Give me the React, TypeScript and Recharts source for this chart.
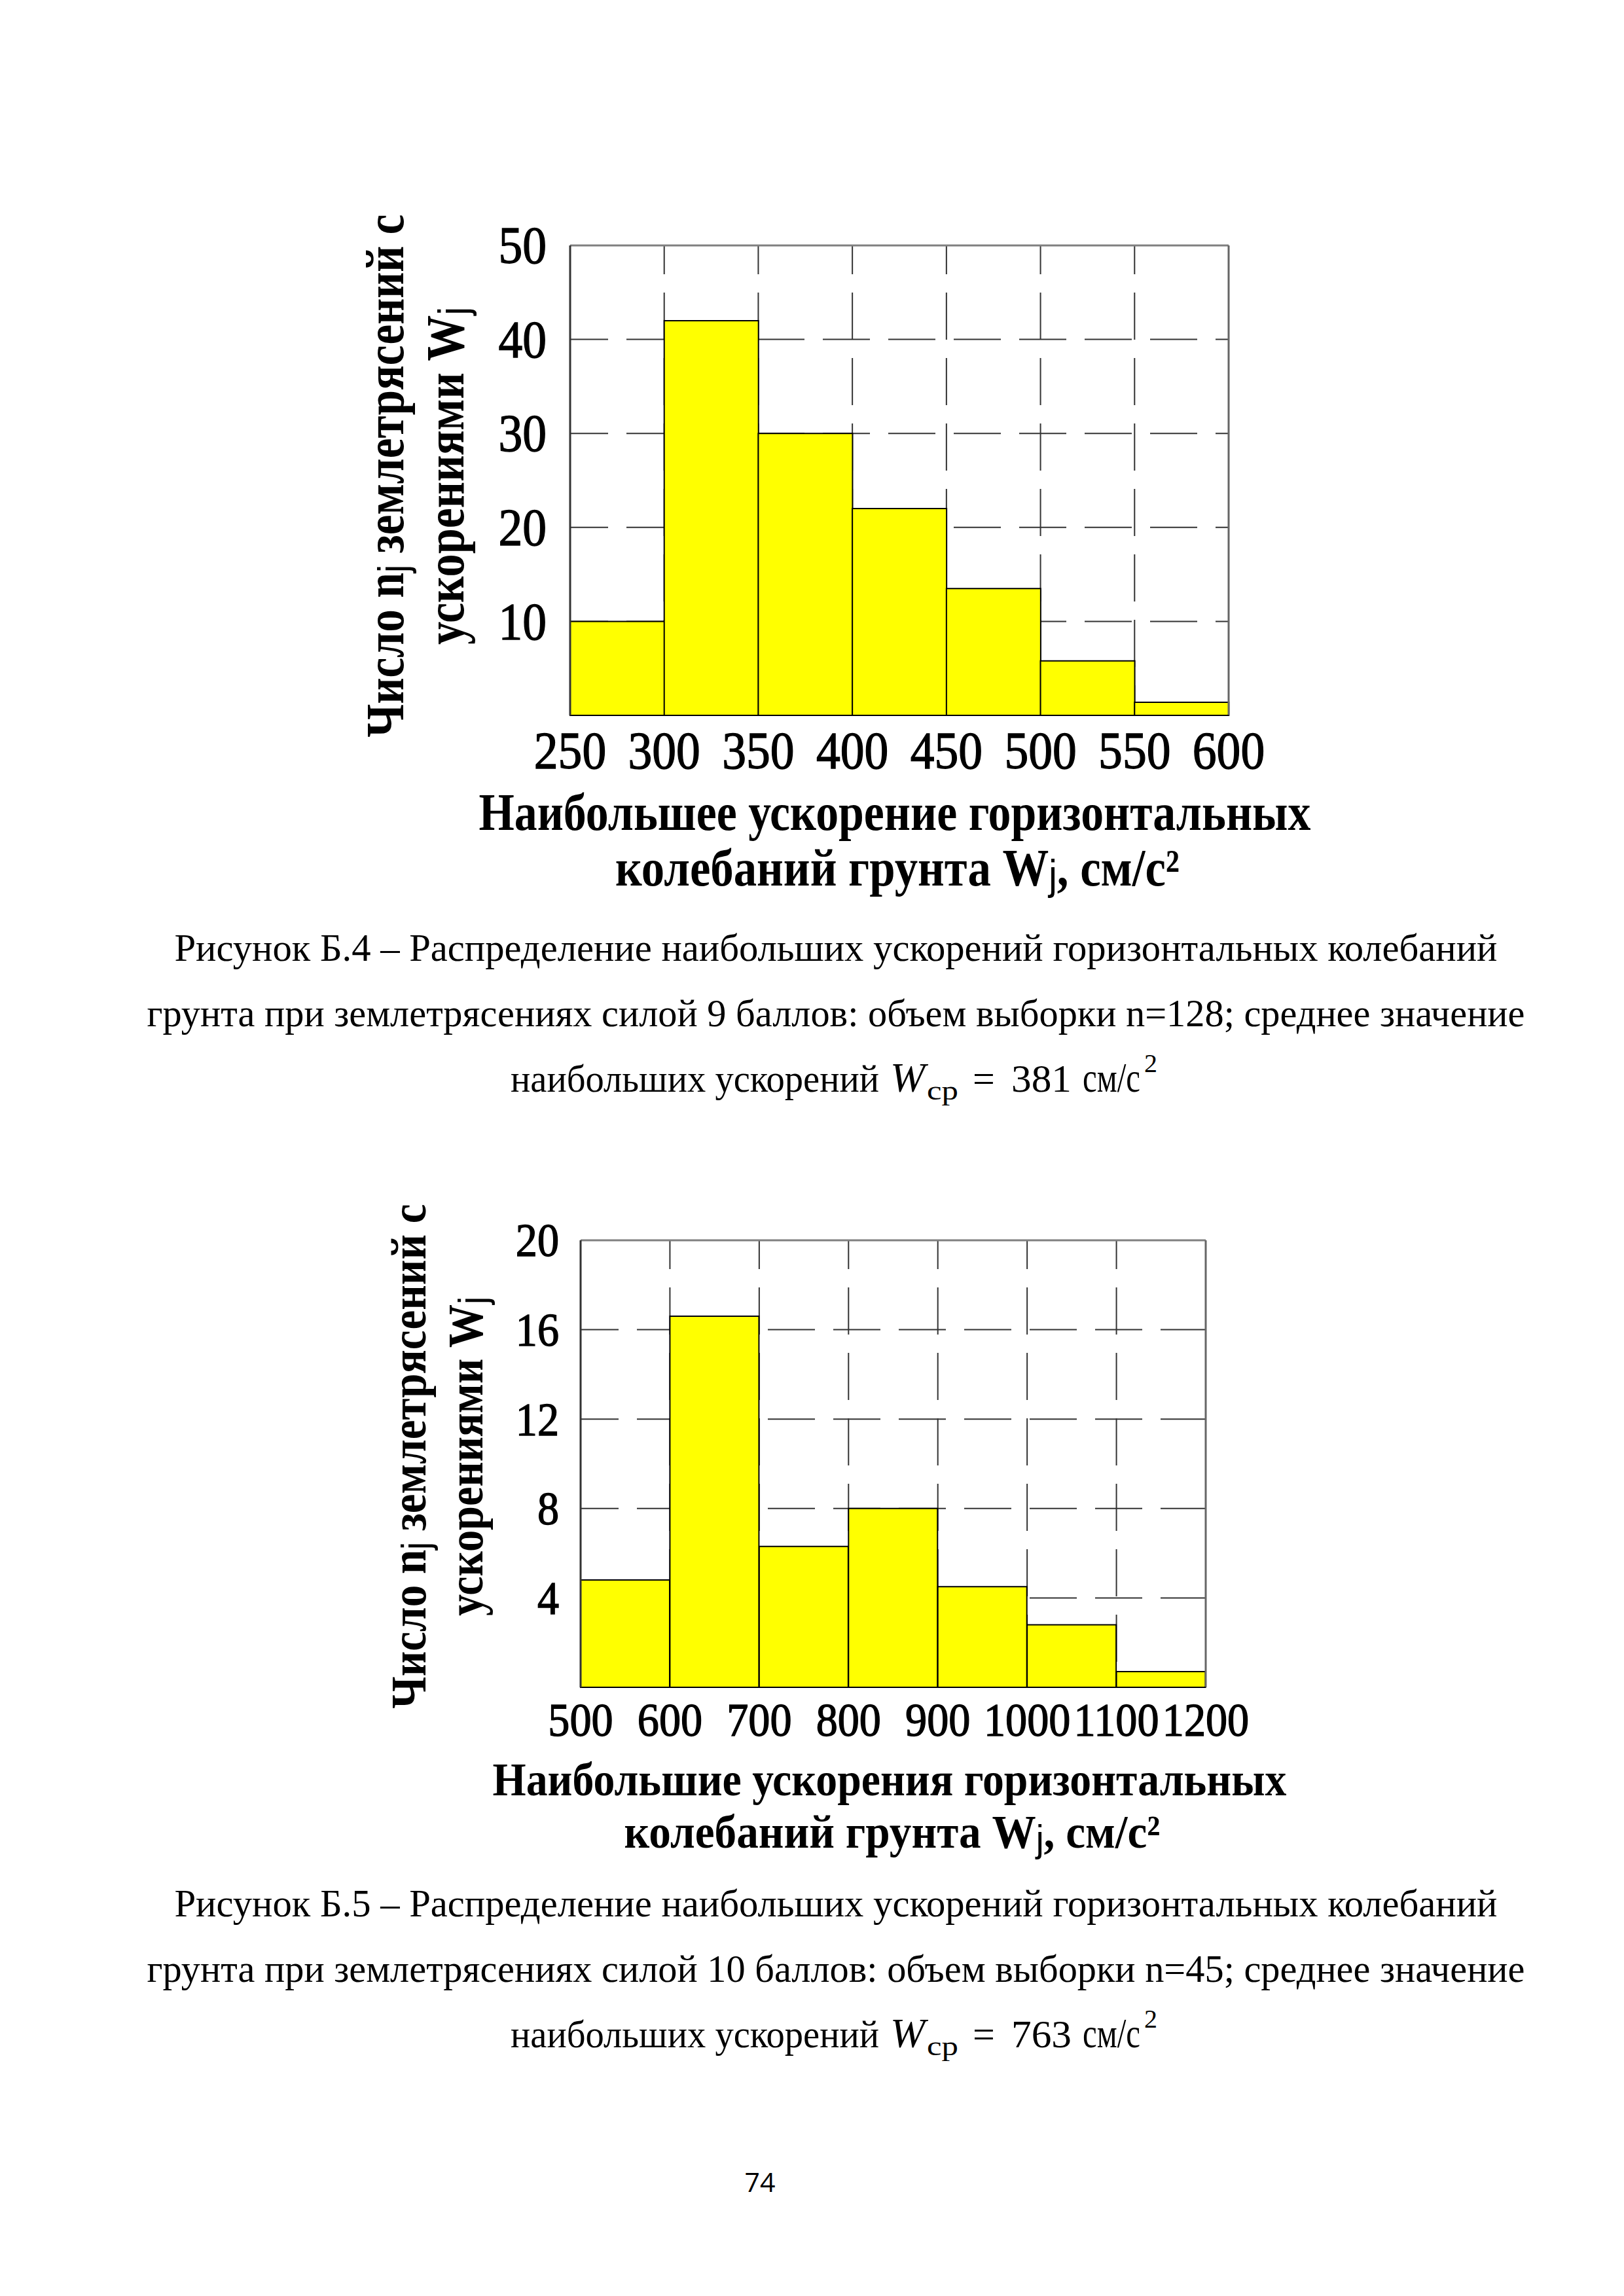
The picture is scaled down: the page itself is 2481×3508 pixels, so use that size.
import React from 'react';
import { BarChart, Bar, XAxis, YAxis, CartesianGrid, ReferenceLine } from 'recharts';

// ── data ─────────────────────────────────────────────────────────────────────

// Рисунок Б.4 — 9 баллов
const edges9 = [250, 300, 350, 400, 450, 500, 550, 600];
const counts9 = [10, 42, 30, 22, 13.5, 5.8, 1.4];
const yTicks9 = [10, 20, 30, 40, 50];

// Рисунок Б.5 — 10 баллов
const edges10 = [500, 600, 700, 800, 900, 1000, 1100, 1200];
const counts10 = [4.8, 16.6, 6.3, 8, 4.5, 2.8, 0.7];
const yTicks10 = [4, 8, 12, 16, 20];

const caption9 = [
  'Рисунок Б.4 – Распределение наибольших ускорений горизонтальных колебаний',
  'грунта при землетрясениях силой 9 баллов: объем выборки n=128; среднее значение',
];
const mean9 = '381';
const caption10 = [
  'Рисунок Б.5 – Распределение наибольших ускорений горизонтальных колебаний',
  'грунта при землетрясениях силой 10 баллов: объем выборки n=45; среднее значение',
];
const mean10 = '763';

const SERIF = '"Liberation Serif", "Times New Roman", serif';
const SANS = '"Liberation Sans", Arial, sans-serif';
const PAGE_W = 2481;

// ── ticks ────────────────────────────────────────────────────────────────────

const XTick = ({ x, y, payload, fs, dy }: any) => (
  <g transform={`translate(${x},${y + dy}) scale(0.92,1)`}>
    <text x={0} y={0} textAnchor="middle" fontFamily={SERIF} fontSize={fs} fill="#000" stroke="#000" strokeWidth={1.4}>
      {payload.value}
    </text>
  </g>
);

const YTick = ({ x, y, payload, fs, gap }: any) => (
  <g transform={`translate(${x - gap},${y + fs * 0.34}) scale(0.92,1)`}>
    <text x={0} y={0} textAnchor="end" fontFamily={SERIF} fontSize={fs} fill="#000" stroke="#000" strokeWidth={1.4}>
      {payload.value}
    </text>
  </g>
);

// ── histogram ────────────────────────────────────────────────────────────────

interface HistProps {
  edges: number[];
  counts: number[];
  yTicks: number[];
  top: number;      // page offset of the chart box
  height: number;
  plot: { left: number; right: number; top: number; bottom: number };
  fs: number;
  xDy: number;
  yGap: number;
}

const Histogram: React.FC<HistProps> = ({ edges, counts, yTicks, top, height, plot, fs, xDy, yGap }) => {
  const data = counts.map((n, i) => ({ bin: `${edges[i]}-${edges[i + 1]}`, start: edges[i], n }));
  const lo = edges[0];
  const hi = edges[edges.length - 1];
  const yMax = yTicks[yTicks.length - 1];
  const pTop = plot.top - top;
  const pBottom = plot.bottom - top;

  return (
    <div style={{ position: 'absolute', left: 0, top, width: PAGE_W, height }}>
      <BarChart
        width={PAGE_W}
        height={height}
        data={data}
        barCategoryGap={0}
        barGap={0}
        margin={{ top: pTop, left: plot.left - 100, right: PAGE_W - plot.right, bottom: height - pBottom - 60 }}
      >
        {/* dashed grid: horizontal and vertical dashes start at different phases */}
        <CartesianGrid
          xAxisId="num"
          vertical={false}
          stroke="#333"
          strokeWidth={2}
          strokeDasharray="72 28"
          strokeDashoffset={14}
          horizontalValues={yTicks.slice(0, -1)}
        />
        <CartesianGrid
          xAxisId="num"
          horizontal={false}
          stroke="#333"
          strokeWidth={2}
          strokeDasharray="72 28"
          strokeDashoffset={28}
          verticalValues={edges.slice(1, -1)}
        />
        <XAxis
          xAxisId="num"
          type="number"
          dataKey="start"
          domain={[lo, hi]}
          allowDataOverflow
          ticks={edges}
          interval={0}
          height={60}
          tickSize={0}
          tickMargin={0}
          tickLine={false}
          axisLine={{ stroke: '#000', strokeWidth: 2 }}
          tick={<XTick fs={fs} dy={xDy} />}
        />
        <XAxis xAxisId="cat" dataKey="bin" hide height={0} />
        <YAxis
          type="number"
          domain={[0, yMax]}
          ticks={yTicks}
          interval={0}
          width={100}
          tickSize={0}
          tickMargin={0}
          tickLine={false}
          axisLine={{ stroke: '#333', strokeWidth: 3 }}
          tick={<YTick fs={fs} gap={yGap} />}
        />
        <Bar xAxisId="cat" dataKey="n" fill="#FFFF00" stroke="#000" strokeWidth={2} isAnimationActive={false} />
        <ReferenceLine xAxisId="num" y={yMax} stroke="#808080" strokeWidth={3} />
        <ReferenceLine xAxisId="num" x={hi} stroke="#666" strokeWidth={3} />
      </BarChart>
    </div>
  );
};

// ── text blocks ──────────────────────────────────────────────────────────────

const J = ({ size }: { size: number }) => (
  <tspan fontFamily={SANS} fontWeight="normal" fontSize={size * 0.8} dy={size * 0.08}>j</tspan>
);

const MeanLine = ({ y, value }: { y: number; value: string }) => (
  <g fontFamily={SERIF} fontSize={60} fill="#000">
    <text x={780} y={y} textLength={563} lengthAdjust="spacingAndGlyphs">наибольших ускорений</text>
    <text x={1360} y={y} fontStyle="italic" fontSize={64}>W</text>
    <text x={1416} y={y + 12} fontSize={42} textLength={48} lengthAdjust="spacingAndGlyphs">ср</text>
    <text x={1486} y={y}>=</text>
    <text x={1545} y={y} textLength={92} lengthAdjust="spacingAndGlyphs">{value}</text>
    <text x={1654} y={y} fontSize={64} textLength={88} lengthAdjust="spacingAndGlyphs">см/с</text>
    <text x={1748} y={y - 30} fontSize={40}>2</text>
  </g>
);

const Caption = ({ lines, value, y }: { lines: string[]; value: string; y: number }) => (
  <g>
    <text x={1277} y={y} textAnchor="middle" fontFamily={SERIF} fontSize={60} textLength={2021} lengthAdjust="spacingAndGlyphs">
      {lines[0]}
    </text>
    <text x={1277} y={y + 100} textAnchor="middle" fontFamily={SERIF} fontSize={60} textLength={2105} lengthAdjust="spacingAndGlyphs">
      {lines[1]}
    </text>
    <MeanLine y={y + 200} value={value} />
  </g>
);

const YTitle = ({ x1, x2, cy, len1, len2, fs }: any) => (
  <g fontFamily={SERIF} fontWeight="bold" fontSize={fs} fill="#000">
    <text transform={`translate(${x1},${cy}) rotate(-90)`} textAnchor="middle" textLength={len1} lengthAdjust="spacingAndGlyphs">
      Число n<J size={fs} /><tspan dy={-fs * 0.08}> землетрясений с</tspan>
    </text>
    <text transform={`translate(${x2},${cy}) rotate(-90)`} textAnchor="middle" textLength={len2} lengthAdjust="spacingAndGlyphs">
      ускорениями W<J size={fs} />
    </text>
  </g>
);

const XTitle = ({ first, cx1, cx2, y1, y2, len1, len2, fs }: any) => (
  <g fontFamily={SERIF} fontWeight="bold" fontSize={fs} fill="#000">
    <text x={cx1} y={y1} textAnchor="middle" textLength={len1} lengthAdjust="spacingAndGlyphs">{first}</text>
    <text x={cx2} y={y2} textAnchor="middle" textLength={len2} lengthAdjust="spacingAndGlyphs">
      колебаний грунта W<J size={fs} /><tspan dy={-fs * 0.08}>, см/с²</tspan>
    </text>
  </g>
);

// ── page ─────────────────────────────────────────────────────────────────────

export default function App() {
  return (
    <div style={{ position: 'absolute', left: 0, top: 0, width: PAGE_W, height: 3508, background: '#fff' }}>
      <Histogram
        edges={edges9}
        counts={counts9}
        yTicks={yTicks9}
        top={0}
        height={1200}
        plot={{ left: 871, right: 1877, top: 375, bottom: 1093 }}
        fs={80}
        xDy={81}
        yGap={36}
      />
      <Histogram
        edges={edges10}
        counts={counts10}
        yTicks={yTicks10}
        top={1700}
        height={1000}
        plot={{ left: 887, right: 1842, top: 1895, bottom: 2578 }}
        fs={72}
        xDy={74}
        yGap={33}
      />
      <svg width={PAGE_W} height={3508} style={{ position: 'absolute', left: 0, top: 0, pointerEvents: 'none' }}>
        <YTitle x1={616} x2={708} cy={727} len1={799} len2={516} fs={82} />
        <XTitle first="Наибольшее ускорение горизонтальных" cx1={1367} cx2={1371} y1={1268} y2={1353} len1={1271} len2={862} fs={80} />
        <Caption lines={caption9} value={mean9} y={1468} />

        <YTitle x1={650} x2={737} cy={2225} len1={771} len2={488} fs={76} />
        <XTitle first="Наибольшие ускорения горизонтальных" cx1={1359} cx2={1363} y1={2743} y2={2823} len1={1213} len2={819} fs={72} />
        <Caption lines={caption10} value={mean10} y={2928} />

        <text x={1161} y={3349} textAnchor="middle" fontFamily='"Open Sans", sans-serif' fontSize={41} fill="#000">74</text>
      </svg>
    </div>
  );
}
